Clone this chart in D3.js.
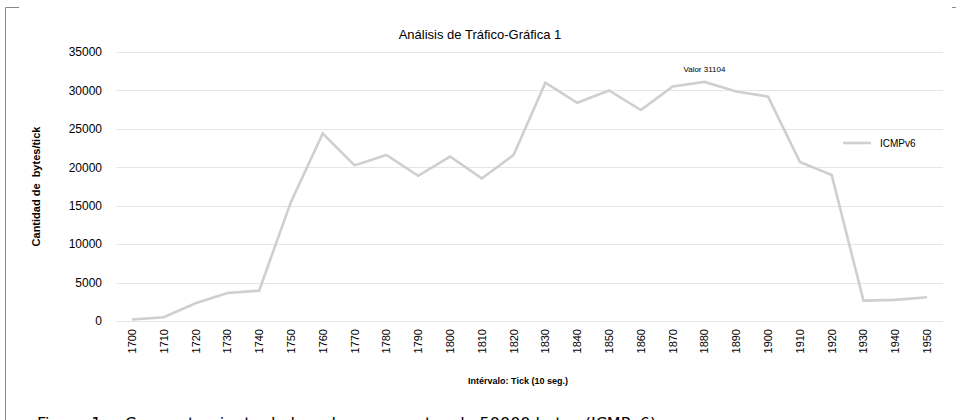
<!DOCTYPE html>
<html lang='es'>
<head>
  <meta charset='utf-8'>
  <title>Análisis de Tráfico</title>
  <script src='https://cdn.jsdelivr.net/npm/d3@7'></script>
  <style>
    body { margin: 0; background: #fff; }
    text { font-family: 'Liberation Sans', Arial, sans-serif; fill: #000; }
  </style>
</head>
<body>
  <script>
    // data
    const ticks = ["1700","1710","1720","1730","1740","1750","1760","1770","1780","1790",
                   "1800","1810","1820","1830","1840","1850","1860","1870","1880","1890",
                   "1900","1910","1920","1930","1940","1950"];
    const icmpv6 = [200, 480, 2300, 3650, 3950, 15500, 24400, 20250, 21600, 18900,
                    21400, 18550, 21600, 31000, 28400, 30000, 27450, 30500, 31104, 29850,
                    29200, 20700, 19000, 2650, 2750, 3100];
    const yTicks = [0, 5000, 10000, 15000, 20000, 25000, 30000, 35000];
    const peakTick = "1880";

    const width = 956, height = 420;
    const margins = { left: 116, right: 13, top: 52, bottom: 99 };

    let svg = d3.select("body").append("svg")
      .attr("width", width)
      .attr("height", height);

    // frame of the figure
    svg.append("path")
      .attr("d", "M5.5,420 V7.5 H19")
      .attr("fill", "none").attr("stroke", "#888").attr("stroke-width", 1);
    svg.append("line")
      .attr("x1", 952).attr("x2", 956).attr("y1", 7.5).attr("y2", 7.5)
      .attr("stroke", "#888");

    let x = d3.scaleBand()
      .domain(ticks)
      .range([margins.left, width - margins.right]);
    let y = d3.scaleLinear()
      .domain([0, 35000])
      .range([height - margins.bottom, margins.top]);

    // grid lines
    svg.append("g").selectAll("line").data(yTicks).join("line")
      .attr("x1", margins.left).attr("x2", width - margins.right)
      .attr("y1", d => Math.round(y(d)) + 0.5).attr("y2", d => Math.round(y(d)) + 0.5)
      .attr("stroke", "#e6e6e6").attr("stroke-width", 1);

    // y axis labels
    let yAxis = svg.append("g")
      .attr("transform", `translate(${margins.left}, 0)`)
      .call(d3.axisLeft(y).tickValues(yTicks).tickFormat(d3.format("d"))
        .tickSize(0).tickPadding(14));
    yAxis.select(".domain").remove();
    yAxis.selectAll("text")
      .style("font-family", "'Liberation Sans', Arial, sans-serif")
      .style("font-size", "12px").attr("fill", "#000");

    // x axis labels, rotated
    let xAxis = svg.append("g")
      .attr("transform", `translate(0, ${y(0)})`)
      .call(d3.axisBottom(x).tickSize(0).tickPadding(0));
    xAxis.select(".domain").remove();
    xAxis.selectAll("text")
      .style("font-family", "'Liberation Sans', Arial, sans-serif")
      .style("font-size", "11px").attr("fill", "#000")
      .attr("text-anchor", "end")
      .attr("dy", null).attr("y", 0)
      .attr("transform", "translate(4, 8) rotate(-90)");

    // the series line
    let line = d3.line()
      .x((d, i) => x(ticks[i]) + x.bandwidth() / 2)
      .y(d => y(d));
    svg.append("path")
      .datum(icmpv6)
      .attr("d", line)
      .attr("fill", "none")
      .attr("stroke", "#cfcfcf")
      .attr("stroke-width", 2.6)
      .attr("stroke-linejoin", "miter");

    // label on the peak
    let pi = ticks.indexOf(peakTick);
    svg.append("text")
      .attr("x", x(peakTick) + x.bandwidth() / 2)
      .attr("y", y(icmpv6[pi]) - 10)
      .attr("text-anchor", "middle")
      .style("font-size", "8px")
      .text("Valor " + icmpv6[pi]);

    // legend
    svg.append("line")
      .attr("x1", 843).attr("x2", 871).attr("y1", 143).attr("y2", 143)
      .attr("stroke", "#cfcfcf").attr("stroke-width", 2.6);
    svg.append("text")
      .attr("x", 880).attr("y", 147)
      .style("font-size", "10px")
      .text("ICMPv6");

    // titles
    svg.append("text")
      .attr("x", 480).attr("y", 39)
      .attr("text-anchor", "middle")
      .style("font-size", "13px")
      .text("Análisis de Tráfico-Gráfica 1");

    svg.append("text")
      .attr("transform", `translate(40, ${(y(0) + y(35000)) / 2}) rotate(-90)`)
      .attr("text-anchor", "middle")
      .style("font-size", "11px").style("font-weight", "bold")
      .style("white-space", "pre")
      .text("Cantidad de  bytes/tick");

    svg.append("text")
      .attr("x", 518).attr("y", 384)
      .attr("text-anchor", "middle")
      .style("font-size", "9px").style("font-weight", "bold")
      .text("Intérvalo: Tick (10 seg.)");

    // figure caption, cut by the bottom edge
    let cap = svg.append("text")
      .attr("y", 429)
      .style("font-family", "'DejaVu Sans', sans-serif")
      .style("font-size", "16px")
      .attr("fill", "#222");
    cap.append("tspan").attr("x", 37).text("Figura 1.");
    cap.append("tspan").attr("x", 125)
      .text("Comportamiento de la red con paquetes de 50000 bytes (ICMPv6)");
  </script>
</body>
</html>
